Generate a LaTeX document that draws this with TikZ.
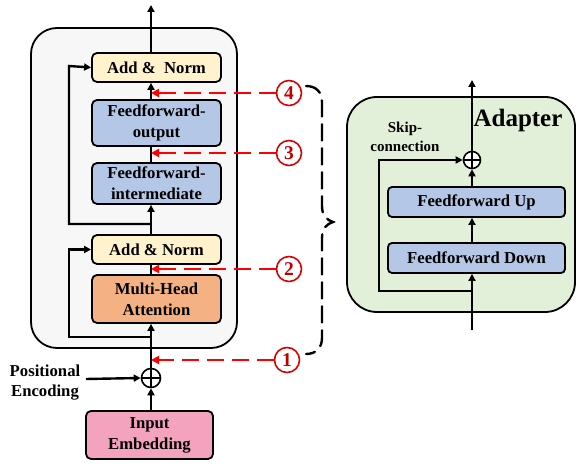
\documentclass[tikz,border=0pt]{standalone}
\usepackage{fontspec}
\setmainfont{Liberation Serif}
\usetikzlibrary{arrows.meta}
\definecolor{encfill}{HTML}{F7F7F7}
\definecolor{anfill}{HTML}{FFF2CC}
\definecolor{fffill}{HTML}{B4C7E7}
\definecolor{mhafill}{HTML}{F4B183}
\definecolor{embfill}{HTML}{F4A3BE}
\definecolor{adfill}{HTML}{E2EFD9}
\definecolor{numred}{HTML}{C00000}
\tikzset{
  blk/.style={draw=black, line width=1.8pt, rounded corners=5pt, minimum width=129pt, align=center, inner sep=0pt,
    font=\fontsize{16.7}{21}\selectfont\bfseries},
  link/.style={line width=2.4pt, -{Triangle[length=7pt,width=7pt]}},
  plain/.style={line width=2.4pt},
  redarrow/.style={red, line width=2.4pt, dash pattern=on 17pt off 8pt, -{Triangle[length=8pt,width=8pt]}},
  num/.style={circle, draw=red!85!black, line width=1.6pt, fill=white, minimum size=25pt, inner sep=0pt,
    text=numred, font=\fontsize{19.5}{19.5}\selectfont\bfseries},
  pluscirc/.style={circle, draw=black, line width=1.6pt, fill=white, minimum size=19pt, inner sep=0pt},
}
\begin{document}
\begin{tikzpicture}[x=1pt,y=-1pt]
\useasboundingbox (0,0) rectangle (582,470);
% encoder container
\node[draw, line width=1.8pt, rounded corners=26pt, fill=encfill, minimum width=206pt, minimum height=320pt] (enc) at (134,188) {};
\node[blk, fill=anfill, minimum height=29pt] (an2) at (156.5,67.5) {Add \&\ \ Norm};
\node[blk, fill=fffill, minimum height=46pt] (ffo) at (156.5,123) {Feedforward-\\output};
\node[blk, fill=fffill, minimum height=41pt] (ffi) at (156.5,183.5) {Feedforward-\\intermediate};
\node[blk, fill=anfill, minimum height=29pt] (an1) at (156.5,249.5) {Add \& Norm};
\node[blk, fill=mhafill, minimum height=48pt] (mha) at (156.5,299) {Multi-Head\\Attention};
\node[pluscirc] (plus) at (151,378) {};
\draw[line width=1.4pt] (plus.north) -- (plus.south) (plus.west) -- (plus.east);
\node[blk, fill=embfill, minimum width=127pt, minimum height=48pt] (emb) at (149.5,435) {Input\\Embedding};
\node[align=center, font=\fontsize{16.7}{20}\selectfont\bfseries] (pe) at (45,383) {Positional\\Encoding};
\coordinate (peend) at (86,379);
\coordinate (top) at (151,5);
\coordinate (s1) at (151,337);
\coordinate (s2) at (151,224);
% main flow
\draw[link] (emb.north -| plus) -- (plus.south);
\draw[link] (peend) -- (plus.west);
\draw[link] (plus.north) -- (mha.south -| plus);
\draw[plain] (mha.north -| plus) -- (an1.south -| plus);
\draw[plain] (an1.north -| plus) -- (s2);
\draw[link] (s2) -- (ffi.south -| plus);
\draw[plain] (ffi.north -| plus) -- (ffo.south -| plus);
\draw[link] (ffo.north -| plus) -- (an2.south -| plus);
\draw[link] (an2.north -| plus) -- (top);
% residuals
\draw[link] (s1) -- (69,337) -- (69,249.5) -- (an1.west);
\draw[link] (s2) -- (69,224) -- (69,66) -- (an2.west);
% red numbered arrows
\node[num] (c4) at (289,93) {4};
\node[num] (c3) at (289,153) {3};
\node[num] (c2) at (289,269) {2};
\node[num] (c1) at (287,360) {1};
\draw[redarrow] (c4.west) -- (c4 -| plus);
\draw[redarrow] (c3.west) -- (c3 -| plus);
\draw[redarrow] (c2.west) -- (c2 -| plus);
\draw[redarrow] (c1.west) -- (c1 -| plus);
% brace
\coordinate (bt) at (306,86);
\coordinate (btip) at (333,222);
\coordinate (bb) at (306,354);
\draw[line width=2.4pt, dash pattern=on 16pt off 8pt, line cap=round]
  (bt) .. controls (316,86) and (322,92) .. (322,102) -- (322,206)
  .. controls (322,216) and (327,220) .. (btip)
  .. controls (327,224) and (322,228) .. (322,238) -- (322,338)
  .. controls (322,348) and (316,354) .. (bb);
% adapter
\node[draw, line width=1.8pt, rounded corners=30pt, fill=adfill, minimum width=228pt, minimum height=215pt] (ad) at (461,204.5) {};
\node[font=\fontsize{25}{25}\selectfont\bfseries] (adt) at (518,120) {Adapter};
\node[align=center, font=\fontsize{15}{19}\selectfont\bfseries] (skt) at (405,136.5) {Skip-\\connection};
\node[blk, fill=fffill, minimum width=177pt, minimum height=30pt, rounded corners=4pt] (fu) at (476.5,202) {Feedforward Up};
\node[blk, fill=fffill, minimum width=177pt, minimum height=30pt, rounded corners=4pt] (fd) at (476.5,258) {Feedforward Down};
\node[pluscirc, minimum size=17pt] (ap) at (472,160) {};
\draw[line width=1.3pt] (ap.north) -- (ap.south) (ap.west) -- (ap.east);
\coordinate (ain) at (472,330);
\coordinate (askip) at (472,291);
\coordinate (aout) at (472,80);
\draw[link] (ain) -- (fd.south -| ain);
\draw[link] (fd.north -| ain) -- (fu.south -| ain);
\draw[link] (fu.north -| ain) -- (ap.south);
\draw[link] (ap.north) -- (aout);
\draw[link] (askip) -- (379,291) -- (379,160) -- (ap.west);
\end{tikzpicture}
\end{document}
